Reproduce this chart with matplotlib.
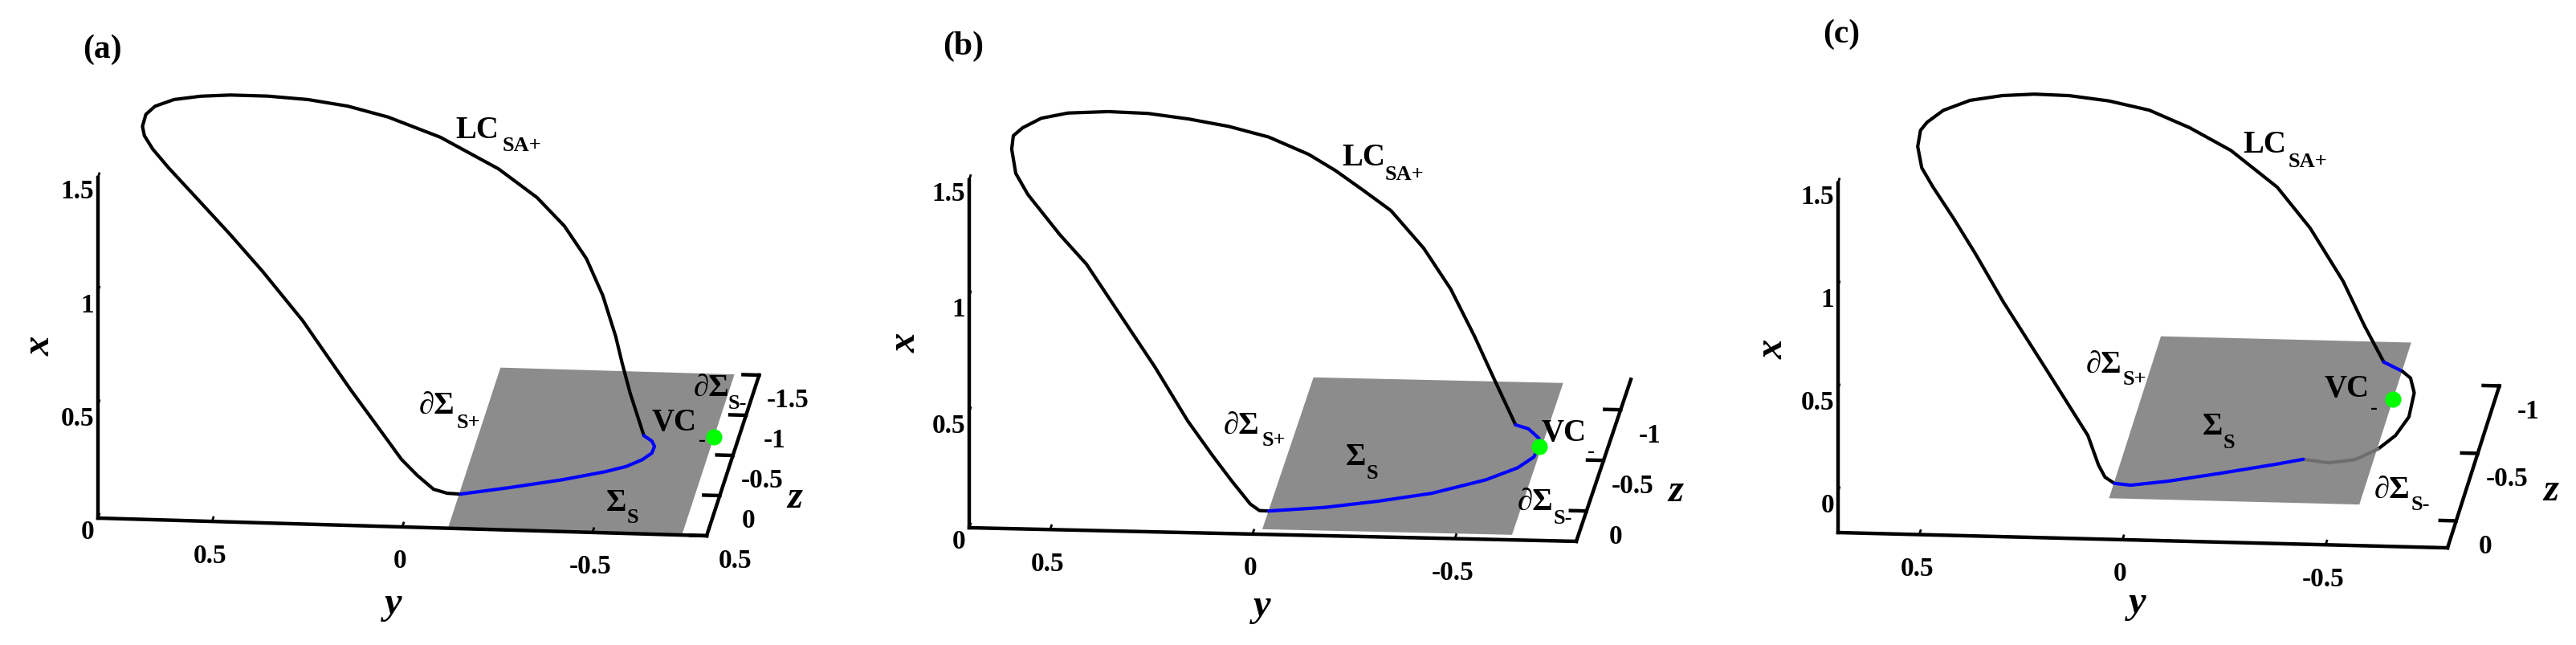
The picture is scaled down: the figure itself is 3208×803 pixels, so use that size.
import numpy as np
import matplotlib
matplotlib.use('Agg')
import matplotlib.pyplot as plt
from matplotlib.patches import Polygon

W, H, DPI = 3208, 804, 100
FONT = ['Liberation Serif', 'DejaVu Serif']

# ------------------------------------------------------------------ data
# Curves read in the (y, x) frame of the front face (z = z_max) of each box.
# ---- panel (a)
a_black_y = [-0.153, -0.118, -0.082, -0.040, 0.002, 0.065, 0.136, 0.262, 0.368, 0.452,
             0.530, 0.614, 0.656, 0.678, 0.683, 0.674, 0.650, 0.600, 0.530, 0.452,
             0.354, 0.248, 0.143, 0.037, -0.100, -0.253, -0.354, -0.426, -0.484, -0.527,
             -0.561, -0.578, -0.599, -0.635]
a_black_x = [0.152, 0.154, 0.170, 0.228, 0.297, 0.439, 0.598, 0.896, 1.109, 1.265,
             1.403, 1.551, 1.632, 1.690, 1.731, 1.784, 1.821, 1.853, 1.871, 1.880,
             1.880, 1.870, 1.846, 1.803, 1.721, 1.589, 1.468, 1.346, 1.205, 1.045,
             0.866, 0.749, 0.618, 0.433]
a_blue_y = [-0.635, -0.656, -0.663, -0.656, -0.631, -0.589, -0.533, -0.420, -0.279, -0.153]
a_blue_x = [0.433, 0.410, 0.387, 0.357, 0.327, 0.295, 0.269, 0.228, 0.186, 0.152]
a_vc = (-0.819, 0.436)
a_plane_y = (-0.735, -0.12)
a_plane_z = (-1.5, 0.5)

# ---- panel (b)
b_black_y = [-0.040, -0.017, 0.006, 0.019, 0.051, 0.099, 0.160, 0.241, 0.336, 0.410,
             0.476, 0.555, 0.585, 0.595, 0.591, 0.568, 0.522, 0.456, 0.357, 0.258,
             0.158, 0.059, -0.040, -0.139, -0.205, -0.275, -0.342, -0.423, -0.490, -0.549,
             -0.599, -0.650]
b_black_x = [0.101, 0.102, 0.130, 0.158, 0.226, 0.335, 0.481, 0.710, 0.955, 1.146,
             1.271, 1.441, 1.531, 1.635, 1.693, 1.728, 1.771, 1.796, 1.806, 1.802,
             1.782, 1.754, 1.712, 1.641, 1.574, 1.490, 1.407, 1.248, 1.074, 0.872,
             0.684, 0.496]
b_blue_y = [-0.650, -0.682, -0.708, -0.705, -0.695, -0.655, -0.576, -0.443, -0.311, -0.179, -0.040]
b_blue_x = [0.496, 0.480, 0.440, 0.394, 0.359, 0.311, 0.256, 0.193, 0.154, 0.122, 0.101]
b_vc = (-0.708, 0.406)
b_plane_y = (-0.637, -0.02)
b_plane_z = (-1.25, 0.25)

# ---- panel (c)
c_black1_y = [0.020, 0.043, 0.059, 0.085, 0.185, 0.293, 0.362, 0.415, 0.467, 0.494,
              0.504, 0.497, 0.481, 0.441, 0.375, 0.296, 0.217, 0.131, 0.033, -0.066,
              -0.165, -0.267, -0.381, -0.462, -0.543, -0.596, -0.643]
c_black1_x = [0.073, 0.102, 0.160, 0.302, 0.611, 0.941, 1.173, 1.340, 1.494, 1.584,
              1.687, 1.766, 1.806, 1.866, 1.918, 1.945, 1.956, 1.953, 1.932, 1.892,
              1.812, 1.706, 1.533, 1.338, 1.084, 0.868, 0.696]
c_blue1_y = [-0.643, -0.689]
c_blue1_x = [0.696, 0.653]
c_black2_y = [-0.689, -0.709, -0.718, -0.705, -0.672, -0.629]
c_black2_x = [0.653, 0.621, 0.550, 0.432, 0.340, 0.272]
c_gray_y = [-0.629, -0.573, -0.508, -0.445]
c_gray_x = [0.272, 0.218, 0.199, 0.213]
c_blue2_y = [-0.445, -0.376, -0.244, -0.112, -0.020, 0.020]
c_blue2_x = [0.213, 0.185, 0.136, 0.090, 0.066, 0.073]
c_vc = (-0.666, 0.515)
c_plane_y = (-0.583, 0.033)
c_plane_z = (-1.0, 0.2)

# axis ranges and ticks
a_yr, a_xr, a_zr = (-0.8, 0.8), (0.0, 1.5), (-1.5, 0.5)
b_yr, b_xr, b_zr = (-0.8, 0.7), (0.0, 1.5), (-1.3, 0.3)
c_yr, c_xr, c_zr = (-0.8, 0.7), (-0.2, 1.5), (-1.0, 0.2)
x_ticks = [0, 0.5, 1, 1.5]
x_tick_labels = ['0', '0.5', '1', '1.5']
y_ticks = [0.5, 0, -0.5]
y_tick_labels = ['0.5', '0', '-0.5']
a_z_ticks = [0.5, 0, -0.5, -1, -1.5]
a_z_tick_labels = ['0.5', '0', '-0.5', '-1', '-1.5']
bc_z_ticks = [0, -0.5, -1]
bc_z_tick_labels = ['0', '-0.5', '-1']

# ------------------------------------------------------------------ layout / style
# oblique projection per panel: origin pixel, pixel vectors per unit of (-y), (+x), (-z)
LAYOUT = {
    'a': dict(origin=(122, 646), yv=(473.75, 13.75), xv=(0, -282.7), zv=(32.7, -100.0)),
    'b': dict(origin=(1207, 658), yv=(504.0, 11.3), xv=(0, -289.0), zv=(42.5, -126.0)),
    'c': dict(origin=(2289, 664), yv=(506.0, 12.7), xv=(0, -256.0), zv=(53.8, -168.0)),
}
AX_LW, CURVE_LW = 3.2, 3.0
PLANE_C = '#8c8c8c'
TICK_FS, LAB_FS, SUB_FS, AXL_FS, PANEL_FS = 24, 28, 19, 35, 30

fig = plt.figure(figsize=(W / DPI, H / DPI), dpi=DPI)
ax = fig.add_axes([0, 0, 1, 1])
ax.set_xlim(0, W)
ax.set_ylim(H, 0)
ax.axis('off')


def make_proj(key, yr, xr, zr):
    L = LAYOUT[key]
    o, yv, xv, zv = L['origin'], L['yv'], L['xv'], L['zv']

    def P(y, x, z):
        y = np.asarray(y, float)
        x = np.asarray(x, float)
        z = np.asarray(z, float)
        u = o[0] + (yr[1] - y) * yv[0] + (x - xr[0]) * xv[0] + (zr[1] - z) * zv[0]
        v = o[1] + (yr[1] - y) * yv[1] + (x - xr[0]) * xv[1] + (zr[1] - z) * zv[1]
        return u, v
    return P


def txt(u, v, s, fs, **kw):
    kw.setdefault('ha', 'center')
    kw.setdefault('va', 'center')
    ax.text(u, v, s, fontsize=fs, family=FONT, fontweight='bold', **kw)


def draw_panel(key, yr, xr, zr, zt, ztl, plane_y, plane_z, segments, vc):
    P = make_proj(key, yr, xr, zr)
    L = LAYOUT[key]
    # plane Sigma_S (x = 0)
    py = [plane_y[0], plane_y[1], plane_y[1], plane_y[0]]
    pz = [plane_z[1], plane_z[1], plane_z[0], plane_z[0]]
    pu, pv = P(py, [0] * 4, pz)
    ax.add_patch(Polygon(np.column_stack([pu, pv]), closed=True, fc=PLANE_C, ec='none', zorder=1))
    # axes
    u, v = P([yr[1], yr[1]], [xr[0], xr[1]], [zr[1], zr[1]])
    ax.plot(u, v, color='k', lw=AX_LW, solid_capstyle='projecting', zorder=3)
    u, v = P([yr[1], yr[0]], [xr[0], xr[0]], [zr[1], zr[1]])
    ax.plot(u, v, color='k', lw=AX_LW, solid_capstyle='projecting', zorder=3)
    u, v = P([yr[0], yr[0]], [xr[0], xr[0]], [zr[1], zr[0]])
    ax.plot(u, v, color='k', lw=AX_LW, solid_capstyle='projecting', zorder=3)
    dz = 0.05 * 100.0 / abs(L['zv'][1])
    # x ticks
    for t, s in zip(x_ticks, x_tick_labels):
        u, v = P([yr[1], yr[1]], [t, t], [zr[1], zr[1] - dz])
        ax.plot(u, v, color='k', lw=2.0, zorder=3)
        txt(u[0] - 5, v[0] + 17, s, TICK_FS, ha='right')
    # y ticks
    for t, s in zip(y_ticks, y_tick_labels):
        u, v = P([t, t], [xr[0], xr[0]], [zr[1], zr[1] - dz])
        ax.plot(u, v, color='k', lw=2.0, zorder=3)
        txt(u[0] - 3, v[0] + 42, s, TICK_FS)
    # z ticks
    dy = 20.0 / L['yv'][0]
    for t, s in zip(zt, ztl):
        u, v = P([yr[0], yr[0] + dy], [xr[0], xr[0]], [t, t])
        ax.plot(u, v, color='k', lw=AX_LW, zorder=3)
        txt(u[0] + 36, v[0] + 31, s, TICK_FS)
    # curve segments
    for ys, xs, col in segments:
        u, v = P(ys, xs, [zr[1]] * len(ys))
        ax.plot(u, v, color=col, lw=CURVE_LW, solid_capstyle='round',
                solid_joinstyle='round', zorder=4)
    u, v = P([vc[0]], [vc[1]], [zr[1]])
    ax.plot(u, v, 'o', color='#00ff00', ms=14.5, mec='none', zorder=5)


draw_panel('a', a_yr, a_xr, a_zr, a_z_ticks, a_z_tick_labels, a_plane_y, a_plane_z,
           [(a_black_y, a_black_x, 'k'), (a_blue_y, a_blue_x, '#0000ff')], a_vc)
draw_panel('b', b_yr, b_xr, b_zr, bc_z_ticks, bc_z_tick_labels, b_plane_y, b_plane_z,
           [(b_black_y, b_black_x, 'k'), (b_blue_y, b_blue_x, '#0000ff')], b_vc)
draw_panel('c', c_yr, c_xr, c_zr, bc_z_ticks, bc_z_tick_labels, c_plane_y, c_plane_z,
           [(c_black1_y, c_black1_x, 'k'), (c_blue1_y, c_blue1_x, '#0000ff'),
            (c_black2_y, c_black2_x, 'k'), (c_gray_y, c_gray_x, '#6e6e6e'),
            (c_blue2_y, c_blue2_x, '#0000ff')], c_vc)

# ------------------------------------------------------------------ annotations (pixel positions)
PANEL_TXT = [('(a)', 127, 62), ('(b)', 1200, 58), ('(c)', 2293, 43)]
for s, u, v in PANEL_TXT:
    txt(u, v, s, PANEL_FS)

AXIS_LABELS = [('x', 50, 431, 90), ('y', 490, 752, 0), ('z', 990, 620, 0),
               ('x', 1128, 427, 90), ('y', 1572, 755, 0), ('z', 2087, 612, 0),
               ('x', 2208, 435, 90), ('y', 2662, 751, 0), ('z', 3177, 611, 0)]
for s, u, v, r in AXIS_LABELS:
    ax.text(u, v, s, fontsize=AXL_FS, family=FONT, fontweight='bold', style='italic',
            rotation=r, ha='center', va='center')

# (main text, centre, subscript, centre)
LABELS = [
    ('LC', (594, 162), 'SA+', (650, 181)),
    ('\u2202\u03a3', (544, 505), 'S+', (583, 527)),
    ('\u2202\u03a3', (886, 483), 'S-', (918, 503)),
    ('VC', (840, 527), '-', (874, 549)),
    ('\u03a3', (767, 627), 'S', (788, 645)),
    ('LC', (1698, 197), 'SA+', (1749, 217)),
    ('\u2202\u03a3', (1546, 530), 'S+', (1586, 549)),
    ('\u03a3', (1688, 570), 'S', (1709, 590)),
    ('VC', (1948, 540), '-', (1981, 563)),
    ('\u2202\u03a3', (1912, 625), 'S-', (1946, 646)),
    ('LC', (2820, 180), 'SA+', (2874, 201)),
    ('\u2202\u03a3', (2620, 454), 'S+', (2658, 473)),
    ('VC', (2923, 485), '-', (2956, 508)),
    ('\u03a3', (2755, 532), 'S', (2776, 552)),
    ('\u2202\u03a3', (2979, 610), 'S-', (3014, 629)),
]
for main, (mu, mv), sub, (su, sv) in LABELS:
    txt(mu, mv, main, LAB_FS)
    txt(su, sv, sub, SUB_FS)

fig.savefig('out.png', dpi=DPI)
